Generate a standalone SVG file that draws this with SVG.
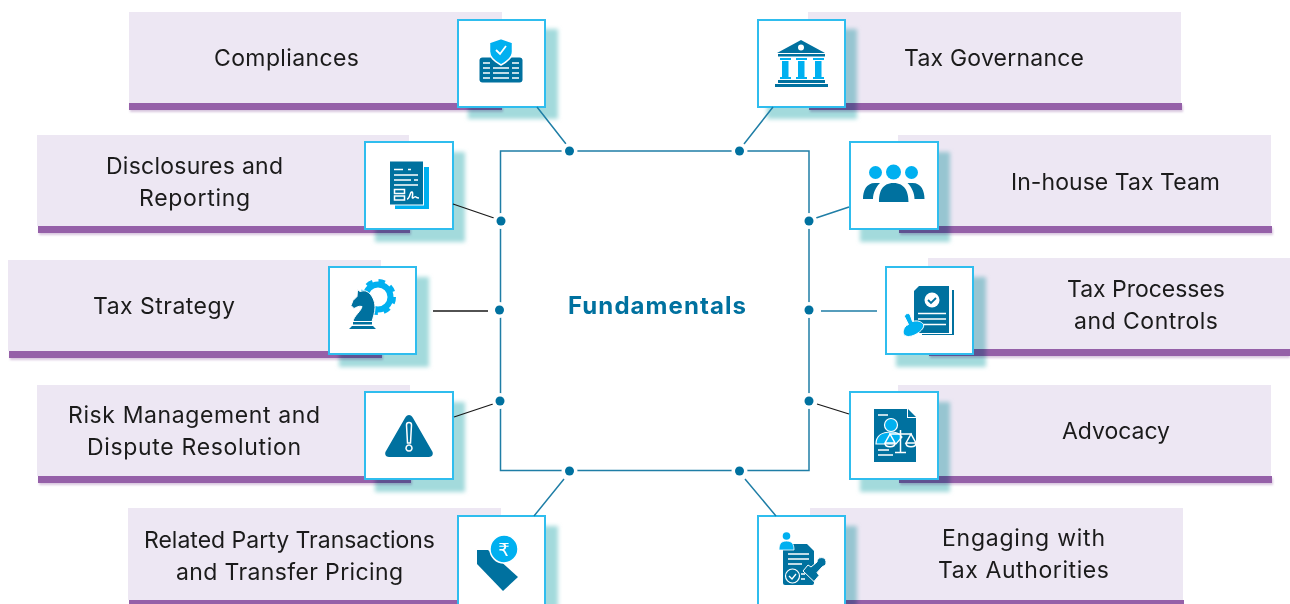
<svg xmlns="http://www.w3.org/2000/svg" width="1290" height="604" viewBox="0 0 1290 604">
<style>
.p{fill:#ede7f3}.b{fill:#9560a8}
.bs{fill:#d8c6df;filter:url(#bs)}
.box{fill:#fff;stroke:#2fbdee;stroke-width:2}
.sh{fill:#a3dadc;filter:url(#bl);mix-blend-mode:multiply}
.t{font-family:Inter,"Liberation Sans",sans-serif;font-size:23px;fill:#1b1b1b;text-anchor:middle}
.d{fill:#00719f}.l{fill:#00b0f0}
.w{stroke:#fff;stroke-width:1.5;fill:none}
.k{stroke:#1a1a1a;stroke-width:1.3;fill:none}
.c{stroke:#1f7ea6;stroke-width:1.5;fill:none}
.halo{fill:#fff}
</style>
<defs><filter id="bl" x="-20%" y="-20%" width="140%" height="140%"><feGaussianBlur stdDeviation="2"/></filter>
<filter id="bs" x="-5%" y="-50%" width="110%" height="200%"><feGaussianBlur stdDeviation="1"/></filter></defs>
<g id="node-compliances"><rect class="p" x="129" y="12" width="373" height="91"/><rect class="bs" x="130" y="105" width="373" height="7"/><rect class="b" x="129" y="103" width="373" height="7"/>
<rect class="sh" x="468" y="29" width="90" height="90"/><rect class="box" x="458" y="20" width="87" height="87"/>
<rect class="d" x="479.500" y="57.500" width="43" height="25" rx="3"/><path class="w" d="M483 63h7M483 68h7M483 73h7M483 78h7M493 68h16M493 73h16M493 78h16M512 63h7M512 68h7M512 73h7M512 78h7"/>
<path class="l" stroke="#fff" stroke-width="1.500" d="M501 38.500l11.500 4v9c0 6-5 10-11.500 13.500c-6.500-3.500-11.500-7.500-11.500-13.500v-9z"/><path d="M496 50l4 4l6-8" fill="none" stroke="#fff" stroke-width="1.800"/>
<text class="t" x="286.500" y="66" textLength="145">Compliances</text></g>
<g id="node-disclosures"><rect class="p" x="37" y="135" width="372" height="91"/><rect class="bs" x="39" y="228" width="372" height="7"/><rect class="b" x="38" y="226" width="372" height="7"/>
<rect class="sh" x="375" y="152" width="90" height="90"/><rect class="box" x="365" y="142" width="88" height="87"/>
<rect class="l" x="395" y="167" width="34" height="42"/><rect class="d" x="389.500" y="161" width="34" height="44" stroke="#fff" stroke-width="1"/>
<path class="w" d="M394 169.500h9M408 169.500h3M394 175h24M394 180h17M414 180h4M394 185h24"/><path class="w" stroke-width="1" d="M394.500 189.500h10v4h-10zM394.500 196h10v4h-10zM407 199c3 0 3-8 5-7s-1 7 1 6s2-2 3-1s2 1 3 1"/>
<text class="t" x="194.500" y="174" textLength="177">Disclosures and</text><text class="t" x="194.500" y="206" textLength="111">Reporting</text></g>
<g id="node-strategy"><rect class="p" x="8" y="260" width="373" height="91"/><rect class="bs" x="10" y="353" width="373" height="7"/><rect class="b" x="9" y="351" width="373" height="7"/>
<rect class="sh" x="339" y="277" width="90" height="90"/><rect class="box" x="329" y="267" width="87" height="87"/>
<circle cx="378" cy="297" r="12.500" fill="none" stroke="#00b0f0" stroke-width="6"/><circle cx="378" cy="297" r="16" fill="none" stroke="#00b0f0" stroke-width="4" stroke-dasharray="6.500 6.070"/>
<path class="d" stroke="#fff" stroke-width="1" d="M357.500 289.500l2.500 2c3-1 5-1 7 0c5 3 8 9 8 16c0 5-2 10-3 14h-19c1-6 8-10 9-15c-3-1-6 1-8 2l-3-3l2-5l4-4z"/><path class="d" d="M353 322h19v2.500h-19zM352 326h21l3 3h-27z"/>
<text class="t" x="164" y="314" textLength="142">Tax Strategy</text></g>
<g id="node-risk"><rect class="p" x="37" y="385" width="373" height="91"/><rect class="bs" x="39" y="478" width="373" height="7"/><rect class="b" x="38" y="476" width="373" height="7"/>
<rect class="sh" x="375" y="402" width="90" height="90"/><rect class="box" x="365" y="392" width="88" height="87"/>
<path class="d" d="M405 418c2-4 6-4 8 0l19 33c2 3 0 6-3 6h-40c-3 0-5-3-3-6z"/>
<path class="w" stroke-width="1.300" d="M406.500 425a2.500 2.500 0 0 1 5 0l-1 18h-3zM409 445a3 3 0 1 0 .01 0z"/>
<text class="t" x="194" y="423" textLength="252">Risk Management and</text><text class="t" x="194" y="455" textLength="214">Dispute Resolution</text></g>
<g id="node-related"><rect class="p" x="128" y="508" width="373" height="92"/><rect class="b" x="129" y="600" width="373" height="4"/>
<rect class="sh" x="468" y="526" width="90" height="90"/><rect class="box" x="458" y="516" width="87" height="90"/>
<path class="d" d="M477 550h11l30 27l-15 14l-26-27z"/><circle class="l" cx="504" cy="549" r="14" stroke="#fff" stroke-width="1.500"/>
<text x="504" y="556" font-family="DejaVu Sans,sans-serif" font-size="18" fill="#fff" text-anchor="middle">₹</text>
<text class="t" x="289.500" y="548" textLength="291">Related Party Transactions</text><text class="t" x="289.500" y="580" textLength="227">and Transfer Pricing</text></g>
<g id="node-governance"><rect class="p" x="808" y="12" width="373" height="91"/><rect class="bs" x="810" y="105" width="373" height="7"/><rect class="b" x="809" y="103" width="373" height="7"/>
<rect class="sh" x="767" y="29" width="90" height="90"/><rect class="box" x="758" y="20" width="87" height="87"/>
<path class="d" d="M801 40l24 13h-48zM778 54h47v2.500h-47zM778 80h47v3h-47zM775 84h53v3h-53z"/><circle cx="801" cy="47.500" r="3" fill="#fff"/>
<path class="l" d="M780 58h11v2h-11zM782 61h6.500v16h-6.500zM780 77h11v2h-11zM796 58h11v2h-11zM798 61h6.500v16h-6.500zM796 77h11v2h-11zM813 58h11v2h-11zM815 61h6.500v16h-6.500zM813 77h11v2h-11z"/>
<text class="t" x="994" y="66" textLength="180">Tax Governance</text></g>
<g id="node-inhouse"><rect class="p" x="898" y="135" width="373" height="91"/><rect class="bs" x="900" y="228" width="373" height="7"/><rect class="b" x="899" y="226" width="373" height="7"/>
<rect class="sh" x="860" y="152" width="90" height="90"/><rect class="box" x="850" y="142" width="88" height="87"/>
<circle class="l" cx="875.500" cy="172.500" r="6.500"/><circle class="l" cx="893.500" cy="172" r="7.500"/><circle class="l" cx="911.500" cy="172.500" r="6.500"/>
<path class="d" d="M863 199c0-8 3-16 12-16h5c-4 4-7 10-7 16zM924.500 199c0-8-3-16-12-16h-5c4 4 7 10 7 16zM879 202c0-10 3-19 14.500-19s15 9 15 19z"/>
<text class="t" x="1115.500" y="190" textLength="209">In-house Tax Team</text></g>
<g id="node-processes"><rect class="p" x="928" y="258" width="362" height="91"/><rect class="bs" x="930" y="351" width="360" height="7"/><rect class="b" x="929" y="349" width="361" height="7"/>
<rect class="sh" x="896" y="277" width="90" height="90"/><rect class="box" x="886" y="267" width="87" height="87"/>
<path class="d" d="M919 286h30v47h-35v-42z"/><path class="d" d="M952 290h2v45h-32v-1h30z"/>
<circle cx="932" cy="300" r="7.500" fill="#fff"/><path d="M928 300l3 3l5-5" fill="none" stroke="#00719f" stroke-width="1.800"/>
<path class="w" d="M918 313.500h28M918 319h28M918 324.500h28"/>
<path class="l" stroke="#fff" stroke-width="1" d="M904.500 316.500a3.200 3.200 0 0 1 5.500-2l2.500 7c5-1.500 9 0 11 3c2 4-8 12-15 12c-4 0-6-3-5-6c0-2 2-5 5-6z"/>
<text class="t" x="1146" y="297" textLength="158">Tax Processes</text><text class="t" x="1146" y="329" textLength="144">and Controls</text></g>
<g id="node-advocacy"><rect class="p" x="898" y="385" width="373" height="91"/><rect class="bs" x="900" y="478" width="373" height="7"/><rect class="b" x="899" y="476" width="373" height="7"/>
<rect class="sh" x="860" y="402" width="90" height="90"/><rect class="box" x="850" y="392" width="88" height="87"/>
<path class="d" d="M874 409h33v9h9v44h-42z"/><path class="d" d="M908 409l8 8h-8z"/>
<circle class="l" cx="891" cy="425" r="6.500" stroke="#fff" stroke-width="1.200"/><path class="l" stroke="#fff" stroke-width="1.200" d="M876 444c0-8 6-12 15-12c5 0 9 2 11 5l-6 7z"/>
<path class="w" stroke-width="1" d="M878 415h10M878 450h11M878 455h15M900.500 430v22M889 434h23M890 434l-5 9h10zM911 434l-5 9h10zM895 452.500h11"/><path class="w" stroke-width="1" d="M885 443c0 5 10 5 10 0M906 443c0 5 10 5 10 0"/>
<text class="t" x="1116" y="439" textLength="108">Advocacy</text></g>
<g id="node-engaging"><rect class="p" x="810" y="508" width="373" height="92"/><rect class="b" x="811" y="600" width="373" height="4"/>
<rect class="sh" x="767" y="526" width="90" height="90"/><rect class="box" x="758" y="516" width="87" height="90"/>
<path class="d" d="M785 544h22l7 7v32q0 2-2 2h-27q-2 0-2-2v-37q0-2 2-2z"/>
<circle class="l" cx="786.500" cy="536" r="3.800"/><path class="l" stroke="#fff" stroke-width=".8" d="M779 550c0-6 2-9 7.500-9s7.500 3 7.500 9z"/>
<path class="w" d="M788 554h21M788 559h21M788 564h14M801 574h4M801 579h4"/>
<circle class="d" cx="792.500" cy="576" r="7" stroke="#fff" stroke-width="1.200"/><path d="M789 576l3 3l4-5" fill="none" stroke="#fff" stroke-width="1.300"/>
<path class="d" stroke="#fff" stroke-width="1" d="M803 571l5-6l3 2l6-5a4.500 4.500 0 1 1 5.500 4.500l-5.500 6l2 3l-5 6z"/>
<text class="t" x="1023.500" y="546" textLength="163">Engaging with</text><text class="t" x="1023.500" y="578" textLength="171">Tax Authorities</text></g>
<g id="connectors">
<rect x="500.500" y="151" width="308.500" height="319.500" class="c"/>
<path class="c" d="M537 107l29 37M744 144l29-37M816 218l33-11M821 311h56M534 516l30-37M745 479l31 37"/>
<path class="k" d="M453 204l41 14M433 311h55M454 417l39-13M849 414l-32-10"/>
<g class="halo"><circle cx="569.500" cy="151" r="8"/><circle cx="739.500" cy="151" r="8"/><circle cx="501" cy="221" r="8"/><circle cx="499.500" cy="310" r="8"/><circle cx="500" cy="401" r="8"/><circle cx="569.500" cy="471" r="8"/><circle cx="739.500" cy="471" r="8"/><circle cx="809" cy="221" r="8"/><circle cx="809" cy="310" r="8"/><circle cx="809" cy="401" r="8"/></g>
<g class="d"><circle cx="569.500" cy="151" r="4.500"/><circle cx="739.500" cy="151" r="4.500"/><circle cx="501" cy="221" r="4.500"/><circle cx="499.500" cy="310" r="4.500"/><circle cx="500" cy="401" r="4.500"/><circle cx="569.500" cy="471" r="4.500"/><circle cx="739.500" cy="471" r="4.500"/><circle cx="809" cy="221" r="4.500"/><circle cx="809" cy="310" r="4.500"/><circle cx="809" cy="401" r="4.500"/></g>
</g>
<text id="center" x="657" y="314" font-family="Inter,Liberation Sans,sans-serif" font-size="24" font-weight="700" fill="#00719f" text-anchor="middle" textLength="178">Fundamentals</text>
</svg>
